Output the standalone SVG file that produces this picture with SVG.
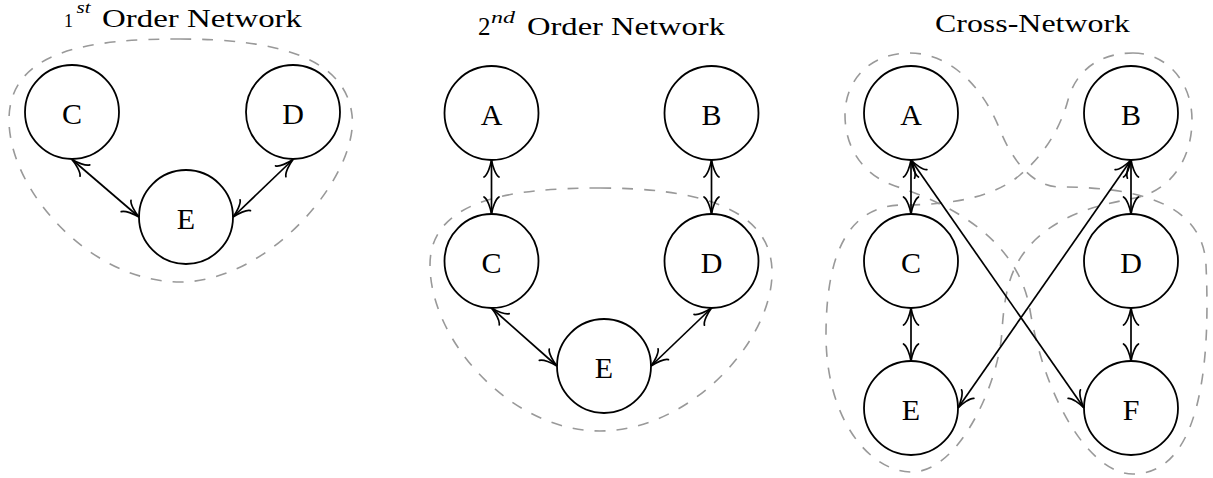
<svg xmlns="http://www.w3.org/2000/svg" width="1213" height="478" viewBox="0 0 1213 478">
<style>
.title{font-family:"Liberation Serif","Times New Roman",serif;font-size:25px;fill:#000}
.sup{font-style:italic;font-size:17px}
.node circle{fill:none;stroke:#000;stroke-width:1.8}
.node text{font-family:"Liberation Serif","Times New Roman",serif;font-size:30px;text-anchor:middle;fill:#000}
.blob{fill:none;stroke:#999;stroke-width:1.6;stroke-dasharray:11 11}
.edge{fill:none;stroke:#000;stroke-width:1.7;marker-start:url(#tip);marker-end:url(#tip)}
</style>
<defs>
<marker id="tip" markerUnits="userSpaceOnUse" viewBox="-20 -10 24 20" refX="0" refY="0" markerWidth="24" markerHeight="20" orient="auto-start-reverse" overflow="visible">
<path d="M -17 -7.5 C -15 -4 -6 -1 0 0 C -6 1 -15 4 -17 7.5" fill="none" stroke="#000" stroke-width="1.7" stroke-linecap="round"/>
</marker>
</defs>
<rect width="1213" height="478" fill="#fff"/>

<g id="titles">
<text class="title" y="27"><tspan x="64" font-size="18">1</tspan><tspan class="sup" x="76.5" y="13" textLength="14" lengthAdjust="spacingAndGlyphs">st</tspan><tspan x="102" y="27" textLength="200" lengthAdjust="spacingAndGlyphs">Order Network</tspan></text>
<text class="title" y="35"><tspan x="478">2</tspan><tspan class="sup" x="491" y="23" textLength="24" lengthAdjust="spacingAndGlyphs">nd</tspan><tspan x="527" y="35" textLength="198" lengthAdjust="spacingAndGlyphs">Order Network</tspan></text>
<text class="title" x="935" y="32" textLength="195" lengthAdjust="spacingAndGlyphs">Cross-Network</text>
</g>

<g id="groups">
<path class="blob" d="M 180 39 C 270 39 345 55 352 115 C 359 175 270 282 180 282 C 90 282 9 190 9 120 C 9 50 90 39 180 39 Z"/>
<path class="blob" d="M 600 188 C 690 188 770 205 772 270 C 774 340 690 431 600 431 C 510 431 430 340 430 265 C 430 200 510 188 600 188 Z"/>
<path class="blob" d="M 910 53 C 945 53 980 80 1000 130 C 1010 155 1030 187 1060 187 C 1130 187 1203 200 1206 265 C 1209 330 1210 474 1133 474 C 1090 474 1045 400 1030 310 C 1022 262 985 215 895 186 C 865 176 845 150 845 115 C 845 80 870 53 910 53 Z"/>
<path class="blob" d="M 1133 53 C 1165 53 1192 80 1192 120 C 1192 160 1170 191 1135 198 C 1100 205 1065 212 1035 240 C 1010 265 1005 290 1002 330 C 1000 380 960 472 912 472 C 870 472 826 420 826 335 C 826 260 845 205 903 205 C 955 205 995 196 1020 175 C 1042 157 1060 130 1068 100 C 1076 70 1100 53 1133 53 Z"/>
</g>

<g id="connectors">
<line class="edge" x1="72" y1="159.5" x2="139" y2="217"/>
<line class="edge" x1="293" y1="159.5" x2="233" y2="217"/>
<line class="edge" x1="491.5" y1="160" x2="491.5" y2="214"/>
<line class="edge" x1="711.5" y1="160" x2="711.5" y2="214"/>
<line class="edge" x1="491.5" y1="308" x2="557" y2="366"/>
<line class="edge" x1="711.5" y1="308" x2="651" y2="366"/>
<line class="edge" x1="911" y1="160" x2="911" y2="214"/>
<line class="edge" x1="911" y1="308" x2="911" y2="361"/>
<line class="edge" x1="1131" y1="160" x2="1131" y2="214"/>
<line class="edge" x1="1131" y1="308" x2="1131" y2="361"/>
<line class="edge" x1="911" y1="160" x2="1084" y2="408"/>
<line class="edge" x1="1131" y1="160" x2="958" y2="408"/>
</g>

<g id="n1-C" class="node"><circle cx="72" cy="112" r="47"/><text x="72" y="123.5">C</text></g>
<g id="n1-D" class="node"><circle cx="293" cy="112" r="47"/><text x="293" y="123.5">D</text></g>
<g id="n1-E" class="node"><circle cx="186" cy="217" r="47"/><text x="186" y="228.5">E</text></g>

<g id="n2-A" class="node"><circle cx="491.5" cy="113" r="47"/><text x="491.5" y="124.5">A</text></g>
<g id="n2-B" class="node"><circle cx="711.5" cy="113" r="47"/><text x="711.5" y="124.5">B</text></g>
<g id="n2-C" class="node"><circle cx="491.5" cy="261" r="47"/><text x="491.5" y="272.5">C</text></g>
<g id="n2-D" class="node"><circle cx="711.5" cy="261" r="47"/><text x="711.5" y="272.5">D</text></g>
<g id="n2-E" class="node"><circle cx="604" cy="366" r="47"/><text x="604" y="377.5">E</text></g>

<g id="n3-A" class="node"><circle cx="911" cy="113" r="47"/><text x="911" y="124.5">A</text></g>
<g id="n3-B" class="node"><circle cx="1131" cy="113" r="47"/><text x="1131" y="124.5">B</text></g>
<g id="n3-C" class="node"><circle cx="911" cy="261" r="47"/><text x="911" y="272.5">C</text></g>
<g id="n3-D" class="node"><circle cx="1131" cy="261" r="47"/><text x="1131" y="272.5">D</text></g>
<g id="n3-E" class="node"><circle cx="911" cy="408" r="47"/><text x="911" y="419.5">E</text></g>
<g id="n3-F" class="node"><circle cx="1131" cy="408" r="47"/><text x="1131" y="419.5">F</text></g>
</svg>
